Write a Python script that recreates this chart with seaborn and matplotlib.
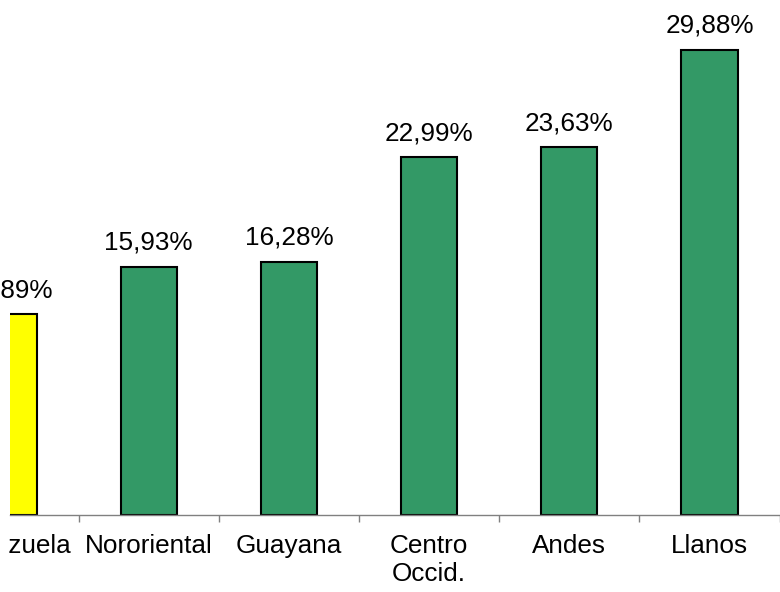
import matplotlib
matplotlib.use("Agg")
import matplotlib.pyplot as plt
import seaborn as sns
import pandas as pd
from matplotlib.ticker import FixedLocator
from matplotlib.transforms import Bbox, TransformedBbox

# Regional percentages
regions = ["Venezuela", "Nororiental", "Guayana", "Centro\nOccid.", "Andes", "Llanos"]
values = [12.89, 15.93, 16.28, 22.99, 23.63, 29.88]
value_labels = ["12,89%", "15,93%", "16,28%", "22,99%", "23,63%", "29,88%"]
bar_colors = ["#FFFF00", "#339966", "#339966", "#339966", "#339966", "#339966"]

sns.set_theme(style="white")
plt.rcParams["font.family"] = ["Liberation Sans", "DejaVu Sans"]

W, H = 780, 592
fig = plt.figure(figsize=(W / 100, H / 100), dpi=100)
fig.patch.set_facecolor("white")

# Plot area in pixel units (left, bottom from figure bottom, right, top)
left_px, bottom_px, right_px, top_px = 10, 77, 782, 592
ax = fig.add_axes([left_px / W, bottom_px / H, (right_px - left_px) / W, (top_px - bottom_px) / H])

df = pd.DataFrame({"region": regions, "value": values})
sns.barplot(data=df, x="region", y="value", hue="region", palette=bar_colors,
            width=0.40, edgecolor="black", linewidth=1.5, legend=False,
            saturation=1, ax=ax)

ax.set_xlim(0.0107, 5.517)
ax.set_ylim(0, 33.08)
ax.set_facecolor("white")

FS = 18.8
LABEL_PAD = 14

# Value labels above the bars
for i, (v, lab) in enumerate(zip(values, value_labels)):
    ax.annotate(lab, xy=(i, v), xytext=(0, 12.3), textcoords="offset points",
                ha="center", va="baseline", fontsize=FS, color="black",
                annotation_clip=False)

# Axes styling
for side in ["left", "top", "right"]:
    ax.spines[side].set_visible(False)
ax.spines["bottom"].set_color("#808080")
ax.spines["bottom"].set_linewidth(1.0)
ax.set_yticks([])
ax.set_xlabel("")
ax.set_ylabel("")
ax.tick_params(axis="x", which="major", bottom=True, length=0, pad=LABEL_PAD,
               labelsize=FS, colors="black")
ax.xaxis.set_minor_locator(FixedLocator([0.5, 1.5, 2.5, 3.5, 4.5, 5.5]))
ax.tick_params(axis="x", which="minor", bottom=True, length=5, width=1.0,
               color="#808080", direction="out")
for t in ax.get_xticklabels():
    t.set_linespacing(1.2)

# The first category sits on the left border of the plot area, so its
# label is placed explicitly and clipped to the chart frame
first = ax.annotate(regions[0], xy=(0, 0), xycoords=("data", "axes fraction"),
                    xytext=(1.5, -LABEL_PAD), textcoords="offset points",
                    ha="center", va="top", fontsize=FS, color="black",
                    annotation_clip=False)
first.set_clip_box(TransformedBbox(Bbox([[9 / W, 0], [1, 1]]), fig.transFigure))
first.set_clip_on(True)

fig.savefig("out.png", dpi=100, facecolor="white")
